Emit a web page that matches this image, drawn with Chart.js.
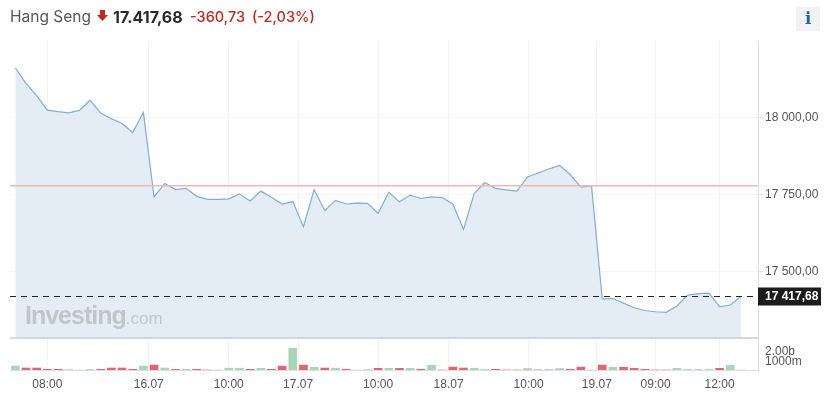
<!DOCTYPE html>
<html>
<head>
<meta charset="utf-8">
<title>Hang Seng</title>
<script src="https://cdn.jsdelivr.net/npm/chart.js@4/dist/chart.umd.min.js"></script>
<style>
    html, body { margin: 0; padding: 0; background: #fff; width: 829px; height: 408px; overflow: hidden; }
    #wrap { position: relative; width: 829px; height: 408px; font-family: Inter, "Liberation Sans", sans-serif; }
    #chart { position: absolute; left: 0; top: 0; }
    .head { position: absolute; top: 7px; font-size: 14.5px; line-height: 20px; white-space: nowrap; }
    #name { left: 10px; color: #555; font-size: 15.5px; }
    #price { left: 113px; color: #2a2a2a; font-weight: 700; font-size: 16px; }
    #change { left: 190px; color: #c4281c; font-weight: 500; }
    #percent { left: 252px; color: #c4281c; font-weight: 500; }
    #arrow { position: absolute; left: 97px; top: 10px; }
    #info { position: absolute; left: 796px; top: 7px; width: 24px; height: 24px; background: #f1f3f5; color: #26619c;
        font: bold 16px "DejaVu Serif", serif; text-align: center; line-height: 24px; }
    #logo { position: absolute; left: 25px; top: 301px; color: #c0c6cb; font-family: "Liberation Sans", sans-serif; white-space: nowrap; }
    #logo b { font-size: 25px; letter-spacing: -1px; }
    #logo span { font-size: 17px; font-weight: 400; }
</style>
</head>
<body>
<div id="wrap">
    <canvas id="chart" width="829" height="408"></canvas>
    <div class="head" id="name">Hang Seng</div>
    <svg id="arrow" width="11" height="12"><polygon points="3,0 8,0 8,5 11,5 5.5,11 0,5 3,5" fill="#c4281c"/></svg>
    <div class="head" id="price">17.417,68</div>
    <div class="head" id="change">-360,73</div>
    <div class="head" id="percent">(-2,03%)</div>
    <div id="info">i</div>
    <div id="logo"><b>Investing</b><span>.com</span></div>
</div>
<script>
// values
const prices = [
    18162, 18112, 18072, 18025, 18020, 18016, 18024, 18057, 18015, 17997,
    17981, 17952, 18017, 17742, 17786, 17766, 17770, 17744, 17734, 17734,
    17736, 17752, 17729, 17761, 17741, 17719, 17727, 17645, 17766, 17697,
    17731, 17719, 17722, 17721, 17689, 17757, 17726, 17748, 17737, 17742,
    17740, 17719, 17636, 17753, 17789, 17770, 17765, 17761, 17807, 17820,
    17833, 17845, 17815, 17774, 17778, 17410, 17411, 17396, 17381, 17372,
    17368, 17366, 17387, 17422, 17427, 17429, 17385, 17390, 17417.68
];
// volume in millions
const volumes = [
    400, 200, 200, 70, 70, 0, 0, 50, 70, 200,
    200, 70, 400, 500, 200, 60, 60, 70, 0, 0,
    180, 180, 70, 170, 70, 400, 2200, 500, 280, 200,
    180, 80, 0, 0, 170, 170, 170, 170, 80, 480,
    0, 300, 200, 180, 50, 70, 0, 0, 150, 50,
    50, 150, 80, 300, 0, 500, 280, 280, 170, 70,
    0, 0, 170, 50, 50, 50, 170, 480, 0
];
const xTickIndex = [3, 12.5, 20, 26.5, 34, 40.6, 48.1, 54.5, 60, 66];
const xTickLabels = ['08:00', '16.07', '10:00', '17.07', '10:00', '18.07', '10:00', '19.07', '09:00', '12:00'];
const priceTicks = [17500, 17750, 18000];
const priceTickLabels = ['17 500,00', '17 750,00', '18 000,00'];
const volumeTicks = [1000, 2000];
const volumeTickLabels = ['1000m', '2.00b'];
const prevClose = 17778.41;
const lastPrice = 17417.68;
const lastPriceLabel = '17 417,68';

const xMin = -0.5;
const xMax = 69.6;
const axisFont = { family: '"Liberation Sans", Arial, sans-serif', size: 12 };

const pricePoints = prices.map((v, i) => ({ x: i, y: v }));
const volumePoints = volumes.map((v, i) => ({ x: i, y: v }));
// green when the price went up from the previous point, red when it went down
const volumeColors = prices.map((v, i) => (i === 0 || v >= prices[i - 1]) ? '#a9d6b6' : '#e0676f');

// pane separator and the black label of the last price
const overlayPlugin = {
    id: 'overlay',
    afterDatasetsDraw(chart) {
        const { ctx, chartArea, scales } = chart;
        const sepY = scales.y1.top;
        ctx.save();
        ctx.strokeStyle = '#c9cdd1';
        ctx.lineWidth = 1.5;
        ctx.beginPath();
        ctx.moveTo(chartArea.left, sepY);
        ctx.lineTo(chartArea.right, sepY);
        ctx.stroke();

        const y = scales.y.getPixelForValue(lastPrice);
        ctx.fillStyle = '#1c1c1c';
        ctx.fillRect(chartArea.right, y - 9, 63, 18);
        ctx.fillStyle = '#fff';
        ctx.font = 'bold 12px "Liberation Sans", Arial, sans-serif';
        ctx.textAlign = 'left';
        ctx.textBaseline = 'middle';
        ctx.fillText(lastPriceLabel, chartArea.right + 7, y + 0.5);
        ctx.restore();
    }
};

new Chart(document.getElementById('chart'), {
    data: {
        datasets: [
            {
                type: 'line',
                data: [{ x: xMin, y: lastPrice }, { x: xMax, y: lastPrice }],
                borderColor: '#222',
                borderWidth: 1,
                borderDash: [6, 5],
                pointRadius: 0,
                yAxisID: 'y',
                order: 0
            },
            {
                type: 'line',
                data: [{ x: xMin, y: prevClose }, { x: xMax, y: prevClose }],
                borderColor: '#f5b5b6',
                borderWidth: 1.5,
                pointRadius: 0,
                yAxisID: 'y',
                order: 1
            },
            {
                type: 'line',
                data: pricePoints,
                borderColor: '#83aed0',
                borderWidth: 1.2,
                backgroundColor: '#e4edf5',
                fill: 'start',
                tension: 0,
                pointRadius: 0,
                yAxisID: 'y',
                order: 2
            },
            {
                type: 'bar',
                data: volumePoints,
                backgroundColor: volumeColors,
                barThickness: 8,
                yAxisID: 'y1',
                order: 3
            }
        ]
    },
    options: {
        responsive: false,
        animation: false,
        layout: { padding: { left: 10, top: 41, right: 0, bottom: 0 } },
        plugins: { legend: { display: false }, tooltip: { enabled: false } },
        scales: {
            x: {
                type: 'linear',
                offset: false,
                min: xMin,
                max: xMax,
                grid: { offset: false, color: '#f0f2f4', tickLength: 0 },
                border: { color: '#dcdfe2' },
                afterBuildTicks: (axis) => { axis.ticks = xTickIndex.map(v => ({ value: v })); },
                afterFit: (axis) => { axis.height = 38; },
                ticks: {
                    autoSkip: false,
                    maxRotation: 0,
                    padding: 7,
                    color: '#555',
                    font: axisFont,
                    callback: (v) => xTickLabels[xTickIndex.indexOf(v)]
                }
            },
            y: {
                position: 'right',
                stack: 'panes',
                stackWeight: 297,
                min: 17282.5,
                max: 18250,
                grid: { color: '#f3f4f6', tickLength: 5, tickColor: '#dcdfe2' },
                border: { color: '#dcdfe2' },
                afterBuildTicks: (axis) => { axis.ticks = priceTicks.map(v => ({ value: v })); },
                afterFit: (axis) => { axis.width = 71; },
                ticks: {
                    padding: 2,
                    color: '#555',
                    font: axisFont,
                    callback: (v) => priceTickLabels[priceTicks.indexOf(v)]
                }
            },
            y1: {
                position: 'right',
                stack: 'panes',
                stackWeight: 32,
                min: 0,
                max: 3230,
                grid: { display: false, tickLength: 5, tickColor: '#dcdfe2' },
                border: { color: '#dcdfe2' },
                afterBuildTicks: (axis) => { axis.ticks = volumeTicks.map(v => ({ value: v })); },
                afterFit: (axis) => { axis.width = 71; },
                ticks: {
                    padding: 2,
                    labelOffset: 2,
                    color: '#555',
                    font: axisFont,
                    callback: (v) => volumeTickLabels[volumeTicks.indexOf(v)]
                }
            }
        }
    },
    plugins: [overlayPlugin]
});
</script>
</body>
</html>
